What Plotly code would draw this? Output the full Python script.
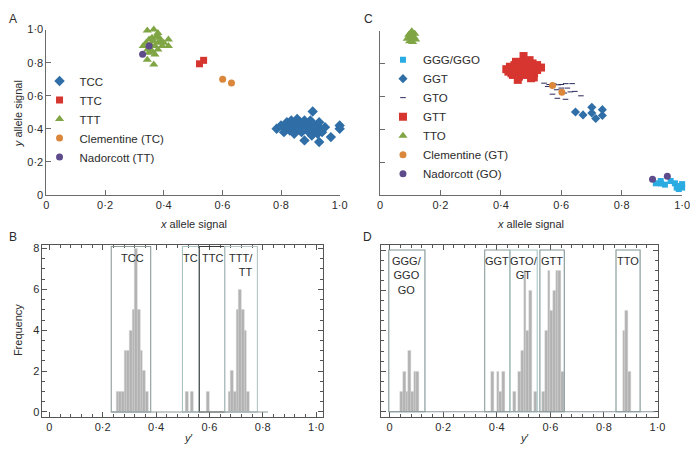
import plotly.graph_objects as go
import numpy as np

# ---------------- Panel A data (x allele signal, y allele signal) ----------------
tcc_x = [0.785, 0.80, 0.81, 0.82, 0.825, 0.83, 0.835, 0.84, 0.845, 0.85, 0.855, 0.86, 0.865, 0.87,
         0.875, 0.88, 0.88, 0.885, 0.89, 0.895, 0.90, 0.90, 0.905, 0.908, 0.91, 0.915, 0.92, 0.93,
         0.925, 0.93, 0.935, 0.95, 0.97, 0.94, 1.0, 1.0]
tcc_y = [0.40, 0.42, 0.38, 0.44, 0.41, 0.39, 0.45, 0.42, 0.37, 0.43, 0.46, 0.40, 0.44, 0.38,
         0.42, 0.33, 0.45, 0.40, 0.43, 0.38, 0.41, 0.45, 0.36, 0.505, 0.43, 0.39, 0.41, 0.32,
         0.37, 0.44, 0.40, 0.41, 0.35, 0.38, 0.42, 0.40]
ttc_x = [0.522, 0.536]
ttc_y = [0.793, 0.814]
ttt_x = [0.344, 0.366, 0.416, 0.416, 0.344, 0.366, 0.33, 0.34, 0.345, 0.35, 0.355, 0.36, 0.36,
         0.365, 0.37, 0.375, 0.38, 0.38, 0.385, 0.39, 0.395, 0.37, 0.35, 0.40, 0.38]
ttt_y = [0.994, 1.0, 0.94, 0.90, 0.818, 0.789, 0.90, 0.92, 0.88, 0.94, 0.91, 0.87, 0.95,
         0.93, 0.90, 0.96, 0.92, 0.88, 0.95, 0.93, 0.90, 0.85, 0.86, 0.92, 0.98]
clemA_x = [0.601, 0.631]
clemA_y = [0.700, 0.677]
nadA_x = [0.350, 0.328]
nadA_y = [0.900, 0.851]

# ---------------- Panel C data ----------------
ggg_x = [0.913, 0.929, 0.943, 0.962, 0.976, 0.982, 0.991, 1.0, 0.989, 1.0, 0.93]
ggg_y = [0.071, 0.085, 0.063, 0.085, 0.071, 0.045, 0.055, 0.045, 0.036, 0.066, 0.070]
ggt_x = [0.647, 0.672, 0.701, 0.701, 0.714, 0.736, 0.736]
ggt_y = [0.505, 0.487, 0.533, 0.499, 0.465, 0.519, 0.483]
gto_x = [0.543, 0.560, 0.575, 0.590, 0.600, 0.615, 0.636, 0.600, 0.620, 0.585, 0.630, 0.645,
         0.665, 0.571, 0.587, 0.614, 0.610, 0.555]
gto_y = [0.680, 0.672, 0.676, 0.670, 0.672, 0.677, 0.677, 0.650, 0.650, 0.640, 0.627, 0.630,
         0.603, 0.613, 0.588, 0.582, 0.620, 0.660]
gtt_x = [0.475, 0.418, 0.533, 0.456, 0.509, 0.43, 0.44, 0.445, 0.45, 0.455, 0.46, 0.465, 0.47,
         0.475, 0.48, 0.48, 0.485, 0.49, 0.495, 0.50, 0.505, 0.51, 0.515, 0.52, 0.44, 0.46, 0.47,
         0.49, 0.50, 0.425, 0.435, 0.45, 0.465, 0.52, 0.50]
gtt_y = [0.845, 0.765, 0.775, 0.700, 0.715, 0.78, 0.76, 0.79, 0.74, 0.77, 0.80, 0.75, 0.78,
         0.81, 0.73, 0.76, 0.79, 0.75, 0.82, 0.77, 0.80, 0.74, 0.78, 0.76, 0.73, 0.72, 0.74,
         0.80, 0.74, 0.75, 0.74, 0.81, 0.79, 0.79, 0.71]
tto_x = [0.095, 0.105, 0.115, 0.100, 0.112, 0.098, 0.108, 0.118, 0.090, 0.105]
tto_y = [0.975, 0.995, 0.980, 0.955, 0.960, 0.935, 0.930, 0.945, 0.950, 0.970]
clemC_x = [0.571, 0.602]
clemC_y = [0.666, 0.625]
nadC_x = [0.902, 0.951]
nadC_y = [0.095, 0.114]

# ---------------- Panel B histogram (bin left edge, count), bin width 0.01 ----------------
b_bins = [0.25, 0.26, 0.27, 0.28, 0.29, 0.30, 0.31, 0.32, 0.33, 0.34, 0.35, 0.36,
          0.51, 0.53, 0.59,
          0.67, 0.68, 0.69, 0.70, 0.71, 0.72, 0.73, 0.74]
b_counts = [1, 1, 1, 3, 3, 4, 5, 8, 5, 3, 2, 1,
            1, 1, 1,
            1, 2, 1, 5, 6, 5, 4, 1]
b_regions = ["TCC", "TC", "TTC", "TTT/<br>TT"]
b_reg_lo = [0.232, 0.499, 0.562, 0.657]
b_reg_hi = [0.380, 0.562, 0.657, 0.780]

# ---------------- Panel D histogram ----------------
d_bins = [0.04, 0.05, 0.06, 0.07, 0.08, 0.09, 0.10,
          0.38, 0.40, 0.41, 0.42,
          0.46, 0.48, 0.49, 0.50, 0.51, 0.52, 0.54,
          0.57, 0.58, 0.59, 0.60, 0.61, 0.62, 0.63, 0.64,
          0.87, 0.88, 0.89]
d_counts = [1, 2, 1, 3, 1, 2, 2,
            2, 2, 1, 2,
            1, 2, 3, 7, 4, 6, 1,
            1, 4, 7, 5, 6, 7, 7, 2,
            4, 5, 2]
d_regions = ["GGG/<br>GGO<br>GO", "GGT", "GTO/<br>GT", "GTT", "TTO"]
d_reg_lo = [-0.003, 0.355, 0.449, 0.561, 0.845]
d_reg_hi = [0.132, 0.449, 0.551, 0.652, 0.935]

tick_vals = [0, 0.2, 0.4, 0.6, 0.8, 1.0]
tick_text = ["0", "0·2", "0·4", "0·6", "0·8", "1·0"]
freq_vals = [0, 2, 4, 6, 8]

BLUE = "#2f6ea6"
RED = "#d7352f"
GREEN = "#7fa544"
ORANGE = "#da873c"
PURPLE = "#5e4b8b"
CYAN = "#2aace2"
NAVY = "#2b2a5c"
FONT = "Liberation Sans, Arial, sans-serif"
# the page body keeps its default 8px margin; keep the page inside the 698x461 window
OFF = 8
W, H = 698 - OFF, 461 - 2 * OFF

fig = go.Figure()


def scat(x, y, name, symbol, color, size, ax, legend, dash=False):
    marker = dict(symbol=symbol, color=color, size=size, line=dict(width=0))
    if dash:
        marker = dict(symbol="line-ew", color=color, size=size, line=dict(width=1.0, color=color))
    fig.add_trace(go.Scatter(x=x, y=y, mode="markers", name=name, marker=marker,
                             xaxis="x" + ax, yaxis="y" + ax, legend=legend, cliponaxis=False))


# Panel A
scat(tcc_x, tcc_y, "TCC", "diamond", BLUE, 8, "", "legend")
scat(ttc_x, ttc_y, "TTC", "square", RED, 7, "", "legend")
scat(ttt_x, ttt_y, "TTT", "triangle-up", GREEN, 8, "", "legend")
scat(clemA_x, clemA_y, "Clementine (TC)", "circle", ORANGE, 7, "", "legend")
scat(nadA_x, nadA_y, "Nadorcott (TT)", "circle", PURPLE, 7, "", "legend")

# Panel C
scat(ggg_x, ggg_y, "GGG/GGO", "square", CYAN, 6, "3", "legend2")
scat(ggt_x, ggt_y, "GGT", "diamond", BLUE, 7, "3", "legend2")
scat(gto_x, gto_y, "GTO", "line-ew", NAVY, 4, "3", "legend2", dash=True)
scat(gtt_x, gtt_y, "GTT", "square", RED, 8, "3", "legend2")
scat(tto_x, tto_y, "TTO", "triangle-up", GREEN, 8, "3", "legend2")
scat(clemC_x, clemC_y, "Clementine (GT)", "circle", ORANGE, 7, "3", "legend2")
scat(nadC_x, nadC_y, "Nadorcott (GO)", "circle", PURPLE, 7, "3", "legend2")

# Histograms
BAR = "#b2b2b2"
fig.add_trace(go.Bar(x=np.array(b_bins) + 0.005, y=b_counts, width=0.01,
                     marker=dict(color=BAR, line=dict(width=0.4, color="#d4d4d4")),
                     xaxis="x2", yaxis="y2", showlegend=False))
fig.add_trace(go.Bar(x=np.array(d_bins) + 0.005, y=d_counts, width=0.01,
                     marker=dict(color=BAR, line=dict(width=0.4, color="#d4d4d4")),
                     xaxis="x4", yaxis="y4", showlegend=False))

shapes = []
b_colors = ["#8d9a9a", "#a9c2c4", "#3a3d3d", "#b2c4c4"]
for lo, hi, c in zip(b_reg_lo, b_reg_hi, b_colors):
    shapes.append(dict(type="rect", xref="x2", yref="y2", x0=lo, x1=hi, y0=0, y1=8.1,
                       line=dict(color=c, width=1.1), layer="above"))
shapes.append(dict(type="line", xref="x2", yref="y2", x0=0.232, x1=0.82, y0=0, y1=0,
                   line=dict(color="#8d9a9a", width=1.1)))
d_colors = ["#7f9494", "#8a9a9a", "#a9c6c8", "#7f9494", "#7f9494"]
for lo, hi, c in zip(d_reg_lo, d_reg_hi, d_colors):
    shapes.append(dict(type="rect", xref="x4", yref="y4", x0=lo, x1=hi, y0=0, y1=8.0,
                       line=dict(color=c, width=1.1), layer="above"))
shapes.append(dict(type="line", xref="x4", yref="y4", x0=-0.003, x1=0.99, y0=0, y1=0,
                   line=dict(color="#8d9a9a", width=1.1)))

TXT = "#2b2b2b"
ann = []


def note(x, y, text, size=11, xref="paper", yref="paper", xanchor="center", yanchor="middle",
         angle=0, align="center"):
    ann.append(dict(x=x, y=y, xref=xref, yref=yref, text=text, showarrow=False,
                    font=dict(size=size, color=TXT, family=FONT), xanchor=xanchor,
                    yanchor=yanchor, textangle=angle, align=align))


def px(xp):
    return (xp - OFF) / W


def py(yp):
    return 1 - (yp - OFF) / H


# panel letters
note(px(10), py(13), "A", 12)
note(px(371), py(13), "C", 12)
note(px(10), py(237), "B", 12)
note(px(370), py(237), "D", 12)
# axis titles
note(px(193), py(224), "<i>x</i> allele signal", 11)
note(px(536), py(224), "<i>x</i> allele signal", 11)
note(px(15), py(110), "<i>y</i> allele signal", 11, angle=-90)
note(px(15), py(333), "Frequency", 11, angle=-90)
note(px(188), py(444), "<i>y</i>′", 11)
note(px(530), py(444), "<i>y</i>′", 11)

# region labels
b_lab_x = [0.311, 0.530, 0.613, 0.772]
for lab, xx in zip(b_regions, b_lab_x):
    if "<br>" in lab:
        note(xx, 7.95, lab, 11, "x2", "y2", xanchor="right", yanchor="top", align="right")
    else:
        note(xx, 7.95, lab, 11, "x2", "y2", yanchor="top")
d_lab_x = [0.064, 0.40, 0.50, 0.606, 0.888]
for lab, xx in zip(d_regions, d_lab_x):
    note(xx, 7.85, lab, 11, "x4", "y4", yanchor="top")

AXC = "#6b6b6b"
common_scatter = dict(range=[0, 1], showline=True, linecolor=AXC, linewidth=1, ticks="inside",
                      ticklen=5, tickcolor=AXC, tickvals=tick_vals, ticktext=tick_text,
                      showgrid=False, zeroline=False, tickfont=dict(size=11, color=TXT, family=FONT))
FR = "#555555"
hist_x = dict(showline=True, linecolor=FR, linewidth=1, mirror="allticks", ticks="inside",
              ticklen=5, tickcolor=FR, tickvals=tick_vals, ticktext=tick_text, showgrid=False,
              zeroline=False, tickfont=dict(size=11, color=TXT, family=FONT),
              minor=dict(ticks="inside", ticklen=3, dtick=0.04, tick0=0, tickcolor=FR, showgrid=False))
hist_y = dict(showline=True, linecolor=FR, linewidth=1, mirror="allticks", ticks="inside",
              ticklen=5, tickcolor=FR, tickvals=freq_vals, showgrid=False, zeroline=False,
              tickfont=dict(size=11, color=TXT, family=FONT),
              minor=dict(ticks="inside", ticklen=3, dtick=0.5, tick0=0, tickcolor=FR, showgrid=False))

fig.update_layout(
    width=W, height=H, margin=dict(l=0, r=0, t=0, b=0),
    paper_bgcolor="white", plot_bgcolor="white",
    font=dict(family=FONT, size=11, color=TXT),
    showlegend=True, bargap=0,
    xaxis=dict(common_scatter, domain=[px(44), px(342)], anchor="y"),
    yaxis=dict(common_scatter, domain=[py(194), py(24)], anchor="x"),
    xaxis3=dict(common_scatter, domain=[px(383), px(690)], anchor="y3"),
    yaxis3=dict(common_scatter, domain=[py(194), py(25)], anchor="x3", showticklabels=False),
    xaxis2=dict(hist_x, domain=[px(40), px(325)], range=[-0.0258, 1.0258], anchor="y2"),
    yaxis2=dict(hist_y, domain=[py(422), py(245)], range=[-0.238, 8.19], anchor="x2"),
    xaxis4=dict(hist_x, domain=[px(384), px(665)], range=[-0.032, 1.0], anchor="y4"),
    yaxis4=dict(hist_y, domain=[py(422), py(245)], range=[-0.255, 8.27], anchor="x4",
                showticklabels=False),
    legend=dict(x=px(37), y=py(62), xanchor="left", yanchor="top", bgcolor="rgba(0,0,0,0)",
                font=dict(size=11.5, color=TXT, family=FONT), itemwidth=30),
    legend2=dict(x=px(386), y=py(40), xanchor="left", yanchor="top", bgcolor="rgba(0,0,0,0)",
                 font=dict(size=11.5, color=TXT, family=FONT), itemwidth=30),
    shapes=shapes, annotations=ann,
)

fig.write_html("out.html")
